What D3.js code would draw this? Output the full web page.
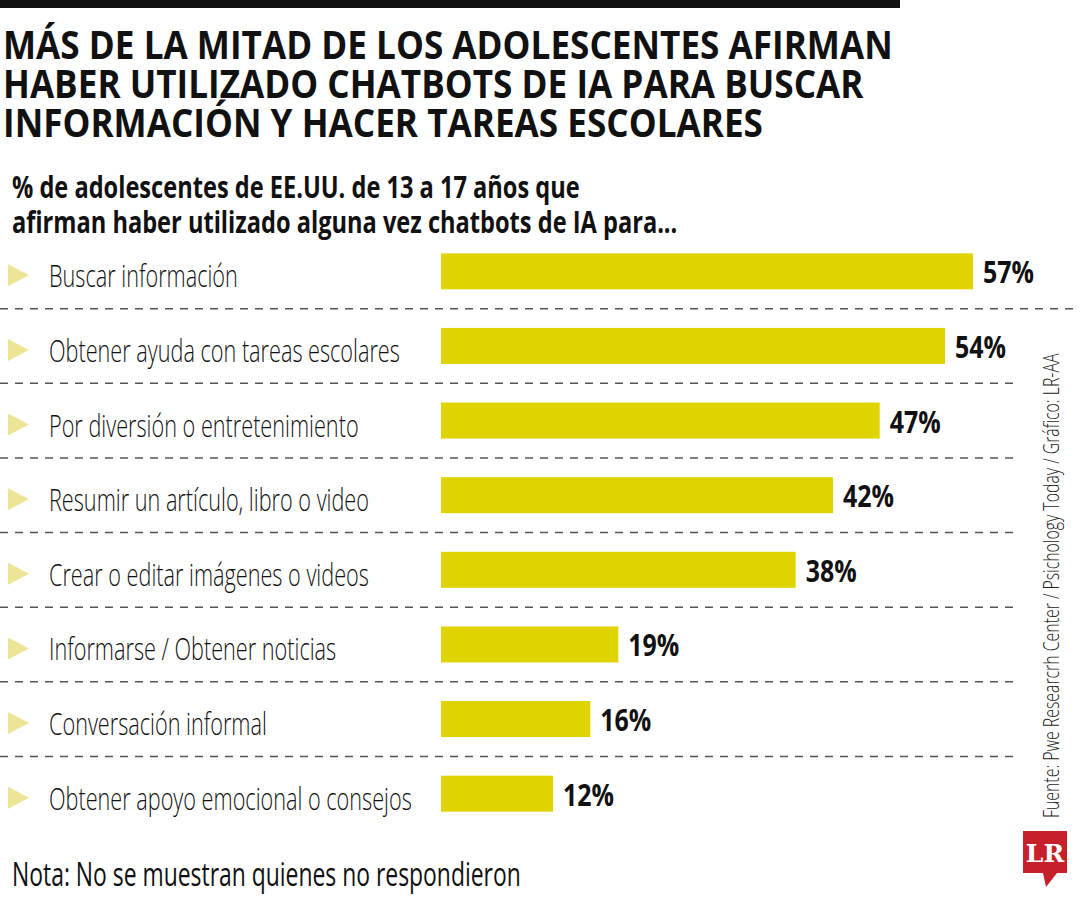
<!DOCTYPE html>
<html>
<head>
<meta charset="UTF-8">
<script src="https://d3js.org/d3.v7.min.js"></script>
<style>
  body { margin: 0; padding: 0; background: #fff; }
  svg text { font-family: 'Open Sans', 'Noto Sans', sans-serif; fill: #111; }
  .title { font-size: 39px; font-weight: 700; }
  .subtitle { font-size: 30px; font-weight: 700; }
  .label { font-size: 32px; font-weight: 300; }
  .value { font-size: 30px; font-weight: 700; }
  .note { font-size: 33px; font-weight: 400; }
  .source { font-size: 22px; font-weight: 300; fill: #222; }
  .logo { font-family: 'DejaVu Serif', 'Liberation Serif', serif; font-size: 25px; font-weight: 700; fill: #fff; }
</style>
</head>
<body>
<div id="chart"></div>
<script>
  const titleLines = [
    "MÁS DE LA MITAD DE LOS ADOLESCENTES AFIRMAN",
    "HABER UTILIZADO CHATBOTS DE IA PARA BUSCAR",
    "INFORMACIÓN Y HACER TAREAS ESCOLARES"
  ];
  const subtitleLines = [
    "% de adolescentes de EE.UU. de 13 a 17 años que",
    "afirman haber utilizado alguna vez chatbots de IA para..."
  ];
  const categories = [
    "Buscar información",
    "Obtener ayuda con tareas escolares",
    "Por diversión o entretenimiento",
    "Resumir un artículo, libro o video",
    "Crear o editar imágenes o videos",
    "Informarse / Obtener noticias",
    "Conversación informal",
    "Obtener apoyo emocional o consejos"
  ];
  const values = [57, 54, 47, 42, 38, 19, 16, 12];
  const noteText = "Nota: No se muestran quienes no respondieron";
  const sourceText = "Fuente: Pwe Researcrh Center / Psichology Today / Gráfico: LR-AA";

  const width = 1080;
  const height = 900;

  const svg = d3.select("#chart")
    .append("svg")
    .attr("width", width)
    .attr("height", height);

  // the original uses a condensed face, so measure and squeeze horizontally
  function widthOf(str, cls) {
    const t = svg.append("text").attr("class", cls).text(str);
    const w = t.node().getComputedTextLength();
    t.remove();
    return w;
  }
  const kTitle = 890 / widthOf(titleLines[0], "title");
  const kSub = 568 / widthOf(subtitleLines[0], "subtitle");
  const kLabel = 351 / widthOf(categories[1], "label");
  const kValue = 51 / widthOf("57%", "value");
  const kNote = 509 / widthOf(noteText, "note");
  const kSource = 465 / widthOf(sourceText, "source");

  const data = categories.map((c, i) => ({ cat: c, value: values[i] }));

  const x = d3.scaleLinear().domain([0, 60]).range([441, 1001]);
  const y = d3.scaleBand().domain(categories).range([234, 831]).padding(0);
  const barH = 36;

  // top rule
  svg.append("rect").attr("x", 0).attr("y", 0).attr("width", 900).attr("height", 8).attr("fill", "#111");

  // title
  svg.selectAll(".title")
    .data(titleLines)
    .enter().append("text")
    .attr("class", "title")
    .attr("transform", (d, i) => `translate(3,${59 + i * 39}) scale(${kTitle},1)`)
    .text(d => d);

  svg.selectAll(".subtitle")
    .data(subtitleLines)
    .enter().append("text")
    .attr("class", "subtitle")
    .attr("transform", (d, i) => `translate(12,${198 + i * 35}) scale(${kSub},1)`)
    .text(d => d);

  // dashed separators between rows
  svg.selectAll(".sep")
    .data(categories.slice(0, -1))
    .enter().append("line")
    .attr("class", "sep")
    .attr("x1", 0)
    .attr("x2", (d, i) => i === 0 ? width : 1020)
    .attr("y1", d => y(d) + y.step())
    .attr("y2", d => y(d) + y.step())
    .attr("stroke", "#555")
    .attr("stroke-width", 1.5)
    .attr("stroke-dasharray", "8,7");

  const rows = svg.selectAll(".row")
    .data(data)
    .enter().append("g")
    .attr("class", "row")
    .attr("transform", d => `translate(0,${y(d.cat) + y.bandwidth() / 2})`);

  rows.append("path")
    .attr("d", "M8,-7 L29,4 L8,15 Z")
    .attr("fill", "#ece596");

  rows.append("text")
    .attr("class", "label")
    .attr("transform", `translate(49,16) scale(${kLabel},1)`)
    .text(d => d.cat);

  rows.append("rect")
    .attr("x", x(0))
    .attr("y", -barH / 2)
    .attr("width", d => x(d.value) - x(0))
    .attr("height", barH)
    .attr("fill", "#dfd400");

  rows.append("text")
    .attr("class", "value")
    .attr("transform", d => `translate(${x(d.value) + 10},12) scale(${kValue},1)`)
    .text(d => d.value + "%");

  // note
  svg.append("text")
    .attr("class", "note")
    .attr("transform", `translate(12,886) scale(${kNote},1)`)
    .text(noteText);

  // vertical source
  svg.append("text")
    .attr("class", "source")
    .attr("transform", `translate(1059,818) rotate(-90) scale(${kSource},1)`)
    .text(sourceText);

  // LR logo
  const logo = svg.append("g").attr("transform", "translate(1023,831)");
  logo.append("path")
    .attr("d", "M0,0 H44 V42 H34 L23,56 L20,42 H0 Z")
    .attr("fill", "#c8202a");
  logo.append("text")
    .attr("class", "logo")
    .attr("x", 22)
    .attr("y", 31)
    .attr("text-anchor", "middle")
    .text("LR");
</script>
</body>
</html>
